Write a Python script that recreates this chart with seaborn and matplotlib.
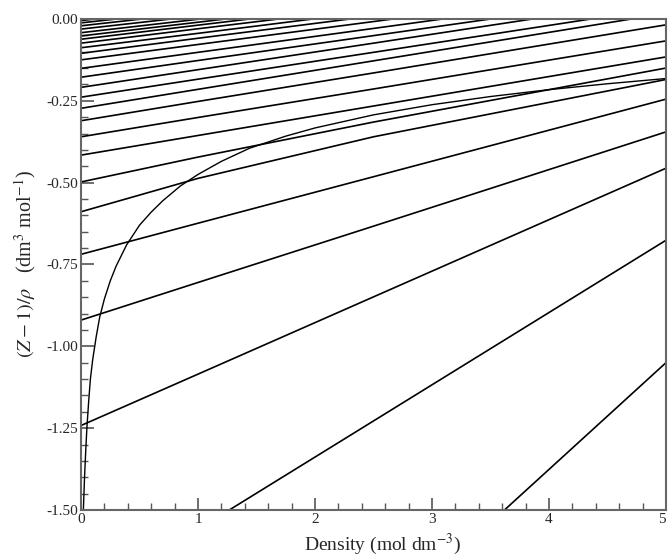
import numpy as np
import pandas as pd
import matplotlib
matplotlib.use("Agg")
import matplotlib.pyplot as plt
import seaborn as sns
from matplotlib.ticker import MultipleLocator

# Isotherms: (Z-1)/rho read at densities 0, 1, 2.5 and 5 mol/dm3
density_points = [0.0, 1.0, 2.5, 5.0]
y_at_0 = [-2.68, -1.78, -1.242, -0.920, -0.719, -0.589, -0.498, -0.416, -0.360,
          -0.311, -0.273, -0.239, -0.209, -0.178, -0.151, -0.125, -0.105, -0.088,
          -0.074, -0.062, -0.052, -0.042, -0.031, -0.021, -0.012, -0.005]
y_at_1 = [-2.354, -1.559, -1.085, -0.805, -0.624, -0.487, -0.422, -0.356, -0.301,
          -0.252, -0.215, -0.184, -0.155, -0.127, -0.102, -0.078, -0.059, -0.044,
          -0.030, -0.019, -0.010, -0.001, 0.009, 0.019, 0.027, 0.034]
y_at_2_5 = [-1.865, -1.228, -0.849, -0.633, -0.482, -0.360, -0.315, -0.266, -0.214,
            -0.165, -0.128, -0.102, -0.074, -0.051, -0.029, -0.008, 0.009, 0.023,
            0.035, 0.045, 0.053, 0.061, 0.070, 0.078, 0.085, 0.092]
y_at_5 = [-1.05, -0.676, -0.456, -0.345, -0.245, -0.185, -0.150, -0.116, -0.067,
          -0.018, 0.017, 0.035, 0.062, 0.076, 0.093, 0.110, 0.123, 0.134,
          0.144, 0.152, 0.158, 0.164, 0.170, 0.177, 0.181, 0.188]

# Boundary curve
curve_x = [0.02, 0.03, 0.04, 0.05, 0.065, 0.08, 0.10, 0.13, 0.16, 0.20, 0.25, 0.30,
           0.39, 0.50, 0.60, 0.70, 0.85, 1.0, 1.2, 1.44, 1.75, 2.0, 2.5, 3.0, 3.5,
           4.0, 4.5, 5.0]
curve_y = [-1.50, -1.40, -1.32, -1.25, -1.17, -1.10, -1.04, -0.97, -0.91, -0.855,
           -0.80, -0.755, -0.69, -0.63, -0.59, -0.555, -0.51, -0.475, -0.435,
           -0.395, -0.358, -0.333, -0.293, -0.262, -0.237, -0.216, -0.198, -0.182]

x_ticks = [0, 1, 2, 3, 4, 5]
y_ticks = [0.00, -0.25, -0.50, -0.75, -1.00, -1.25, -1.50]

rows = []
for i, vals in enumerate(zip(y_at_0, y_at_1, y_at_2_5, y_at_5)):
    for d, v in zip(density_points, vals):
        rows.append({"line": i, "density": d, "value": v})
iso = pd.DataFrame(rows)
cur = pd.DataFrame({"density": curve_x, "value": curve_y})

sns.set_style("ticks")
plt.rcParams["font.family"] = ["Liberation Serif", "DejaVu Serif"]
plt.rcParams["mathtext.fontset"] = "stix"
plt.rcParams["axes.unicode_minus"] = False

fig = plt.figure(figsize=(6.68, 5.57), dpi=100)
ax = fig.add_axes([0.1213, 0.0844, 0.8757, 0.8816])

sns.lineplot(data=iso, x="density", y="value", units="line", estimator=None,
             color="black", linewidth=1.2, ax=ax, legend=False)
sns.lineplot(data=cur, x="density", y="value", sort=False, estimator=None,
             color="black", linewidth=1.0, ax=ax, legend=False)

ax.set_xlim(0, 5)
ax.set_ylim(-1.5, 0)
ax.set_xticks(x_ticks)
ax.set_xticklabels([str(t) for t in x_ticks])
ax.set_yticks(y_ticks)
ax.set_yticklabels([f"{t:.2f}" for t in y_ticks])
ax.xaxis.set_minor_locator(MultipleLocator(0.2))
ax.yaxis.set_minor_locator(MultipleLocator(0.05))
ax.tick_params(which="both", direction="in", color="#555555", labelsize=11,
               top=False, right=False, pad=2)
ax.tick_params(which="major", length=9, width=1.2)
ax.tick_params(which="minor", length=5, width=1.0)
ax.get_xticklabels()[-1].set_horizontalalignment("right")
for s in ax.spines.values():
    s.set_color("#666666")
    s.set_linewidth(1.5)

ax.set_xlabel("Density (mol dm$^{-3}$)", fontsize=14, labelpad=4)
ax.xaxis.label.set_x(0.516)
ax.set_ylabel(r"$(Z-1)/\rho$   (dm$^{3}$ mol$^{-1}$)", fontsize=14.5, labelpad=6)

fig.savefig("out.png", dpi=100)
